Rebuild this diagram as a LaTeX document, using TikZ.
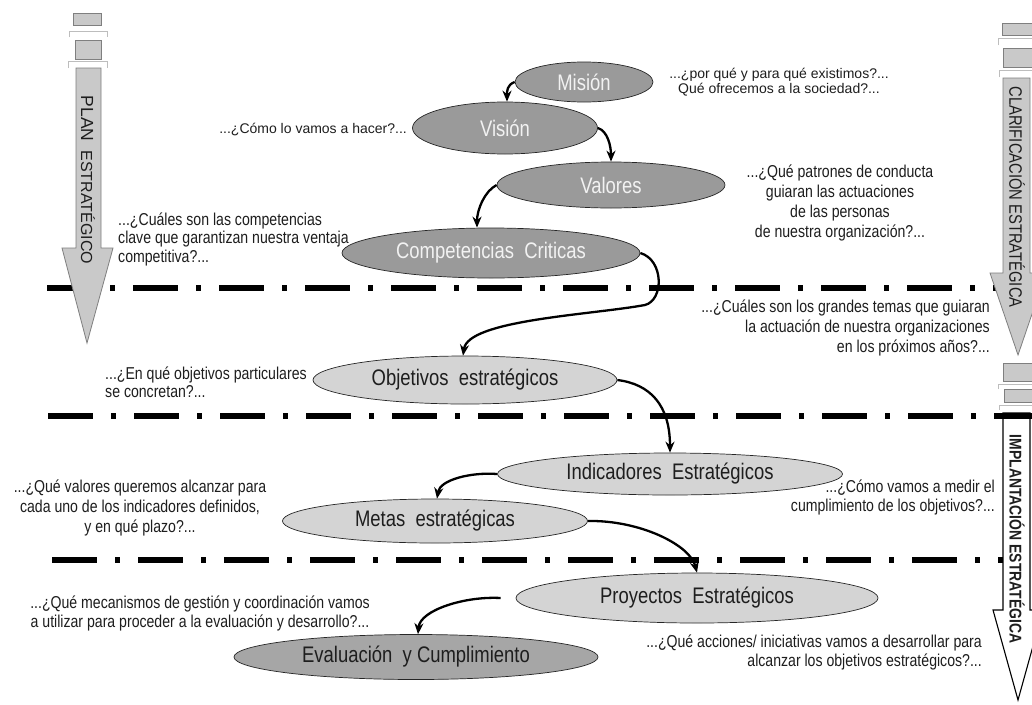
\documentclass[tikz,border=0pt]{standalone}
\usepackage{fontspec}
\setmainfont{Liberation Sans}
\newfontfamily\narrowfont[FakeStretch=0.82]{Liberation Sans}
\usetikzlibrary{shapes.geometric,arrows.meta}
\definecolor{stagedark}{HTML}{9A9A9A}
\definecolor{stagelight}{HTML}{D4D4D4}
\definecolor{stagemid}{HTML}{A6A6A6}
\definecolor{bandfill}{HTML}{C9C9C9}
\definecolor{bandline}{HTML}{7F7F7F}
\definecolor{capline}{HTML}{BDBDBD}
\definecolor{inktext}{HTML}{1E1E1E}
\newcommand\stagefont{\narrowfont\fontsize{22.5}{25}\selectfont}
\newcommand\askfont[1]{\narrowfont\fontsize{17.2}{#1}\selectfont}

\begin{document}
\begin{tikzpicture}[x=1pt,y=-1pt,
  stage/.style={ellipse, draw=black!85, line width=0.7pt, inner sep=0pt, font=\stagefont},
  upper/.style={stage, fill=stagedark, text=white!95!black},
  lower/.style={stage, fill=stagelight, text=inktext},
  ask/.style={text=inktext, inner sep=0pt},
  conn/.style={-{Stealth[length=11pt,width=9pt]}, line width=2.3pt},
  divider/.style={line width=5.5pt, dash pattern=on 45pt off 18pt on 5pt off 18pt},
  tab/.style={fill=bandfill, draw=bandline, line width=0.7pt},
  capmark/.style={draw=capline, line width=0.8pt},
  band/.style={fill=bandfill, draw=bandline, line width=0.8pt},
  bandtext/.style={rotate=-90, text=inktext, inner sep=0pt}
]
\useasboundingbox (0,0) rectangle (1032,704);
\clip (0,0) rectangle (1032,704);
\fill[white] (0,0) rectangle (1032,704);

% ---- implementation band (outlined, white) ----
\draw[tab] (1003,363) rectangle (1033,381);
\draw[capmark] (998,389) -- (998,384) -- (1033,384);
\draw[tab] (1004,389) rectangle (1033,402);
\draw[capmark] (999,410) -- (999,405) -- (1033,405);
\draw[fill=white, draw=black, line width=1.1pt]
  (1003,413) -- (1030,413) -- (1030,610) -- (1043,610) -- (1018,700)
  -- (993,610) -- (1003,610) -- cycle;
\node[bandtext, font=\narrowfont\fontsize{17}{20}\selectfont\bfseries] (impl) at (1017,539) {IMPLANTACIÓN ESTRATÉGICA};

% ---- phase dividers ----
\draw[divider] (47,288) -- (1032,288);
\draw[divider] (48,416) -- (1032,416);
\draw[divider] (52,560) -- (1003,560);

% ---- strategic plan band ----
\draw[tab] (73,13) rectangle (101,25);
\draw[capmark] (69,37) -- (69,31) -- (107,31) -- (107,37);
\draw[tab] (75,40) rectangle (101,59);
\draw[capmark] (68,68) -- (68,61) -- (107,61) -- (107,68);
\draw[band] (76,68) -- (101,68) -- (101,248) -- (113,248) -- (87,343)
  -- (62,248) -- (76,248) -- cycle;
\node[bandtext] (plan) at (88,180)
  {{\fontsize{17.5}{18}\selectfont PLAN}\hspace{9pt}{\fontsize{16}{18}\selectfont ESTRATÉGICO}};

% ---- clarification band ----
\draw[tab] (1002,23) rectangle (1033,35);
\draw[capmark] (998,45) -- (998,38) -- (1033,38);
\draw[tab] (1003,48) rectangle (1033,67);
\draw[capmark] (999,77) -- (999,70) -- (1033,70);
\draw[band] (1003,78) -- (1030,78) -- (1030,273) -- (1046,273) -- (1018,355)
  -- (990,273) -- (1003,273) -- cycle;
\node[bandtext, font=\narrowfont\fontsize{18}{20}\selectfont] (clar) at (1017,197) {CLARIFICACIÓN ESTRATÉGICA};

% ---- stages ----
\node[upper, minimum width=138, minimum height=40] (mision) at (584,82) {Misión};
\node[upper, minimum width=185, minimum height=52] (vision) at (505,128) {Visión};
\node[upper, minimum width=228, minimum height=46] (valores) at (611,185) {Valores};
\node[upper, minimum width=298, minimum height=50] (comp) at (491,253) {Competencias\ \ Criticas};
\node[lower, minimum width=304, minimum height=48] (obj) at (465,380) {Objetivos\ \ estratégicos};
\node[lower, minimum width=345, minimum height=42] (ind) at (670,474) {Indicadores\ \ Estratégicos};
\node[lower, minimum width=305, minimum height=44] (metas) at (435,521) {Metas\ \ estratégicas};
\node[lower, minimum width=362, minimum height=50] (proy) at (697,598) {Proyectos\ \ Estratégicos};
\node[stage, fill=stagemid, text=inktext, minimum width=364, minimum height=45] (eval) at (416,657) {Evaluación\ \ y Cumplimiento};

% ---- guiding questions ----
\node[ask, font=\fontsize{14}{15.5}\selectfont, align=center] (qmision) at (779,82)
  {...¿por qué y para qué existimos?...\\Qué ofrecemos a la sociedad?...};
\node[ask, font=\fontsize{14}{16}\selectfont, anchor=east] (qvision) at (407,130)
  {...¿Cómo lo vamos a hacer?...};
\node[ask, font=\askfont{20}, align=center] (qvalores) at (840,203)
  {...¿Qué patrones de conducta\\guiaran las actuaciones\\de las personas\\de nuestra organización?...};
\node[ask, font=\askfont{18.5}, align=left, anchor=west] (qcomp) at (118,239)
  {...¿Cuáles son las competencias\\clave que garantizan nuestra ventaja\\competitiva?...};
\node[ask, font=\askfont{20}, align=right, anchor=east] (qtemas) at (990,328)
  {...¿Cuáles son los grandes temas que guiaran\\la actuación de nuestra organizaciones\hspace*{24pt}\\en los próximos años?...};
\node[ask, font=\askfont{18}, align=left, anchor=west] (qobj) at (105,382)
  {...¿En qué objetivos particulares\\se concretan?...};
\node[ask, font=\askfont{20}, align=center] (qmetas) at (140,508)
  {...¿Qué valores queremos alcanzar para\\cada uno de los indicadores definidos,\\y en qué plazo?...};
\node[ask, font=\askfont{19}, align=right, anchor=east] (qind) at (995,497)
  {...¿Cómo vamos a medir el\\cumplimiento de los objetivos?...};
\node[ask, font=\askfont{19}, align=center] (qeval) at (200,613)
  {...¿Qué mecanismos de gestión y coordinación vamos\\a utilizar para proceder a la evaluación y desarrollo?...};
\node[ask, font=\askfont{19}, align=right, anchor=east] (qproy) at (982,652)
  {...¿Qué acciones/ iniciativas vamos a desarrollar para\\alcanzar los objetivos estratégicos?...};

% ---- flow between stages ----
\draw[conn] (mision.west) .. controls +(-8,3) and +(0,-10) .. ([xshift=2pt]vision.north);
\draw[conn] (vision.east) .. controls +(10,3) and +(0,-15) .. (valores.north);
\draw[conn] (valores.west) .. controls +(-12,6) and +(0,-18) .. ([xshift=-14pt]comp.north);
\draw[conn] (comp.east) .. controls (664,260) and (664,300) .. (645,305)
  .. controls (590,315) and (468,320) .. ([xshift=-2pt]obj.north);
\draw[conn] (obj.east) .. controls (650,384) and (670,405) .. (ind.north);
\draw[conn] (ind.west) .. controls (470,472) and (440,480) .. ([xshift=2pt]metas.north);
\draw[conn] (metas.east) .. controls (640,520) and (690,545) .. (proy.north);
\draw[conn] ([xshift=-15pt]proy.west) .. controls (465,596) and (420,610) .. ([xshift=2pt]eval.north);
\end{tikzpicture}
\end{document}
